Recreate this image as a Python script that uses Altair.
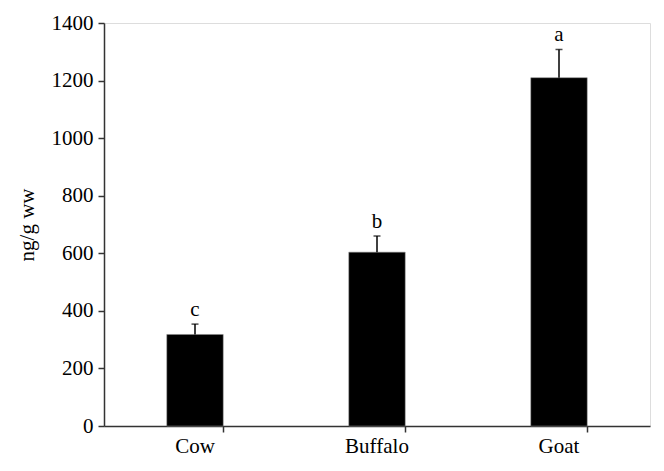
import altair as alt
import pandas as pd

categories = ["Cow", "Buffalo", "Goat"]
means = [318, 604, 1210]
errors = [36, 56, 98]
letters = ["c", "b", "a"]

df = pd.DataFrame({
    "animal": categories,
    "mean": means,
    "upper": [m + e for m, e in zip(means, errors)],
    "letter": letters,
})

FONT = "Liberation Serif"

x = alt.X("animal:N", sort=categories, title=None,
          scale=alt.Scale(paddingInner=0.69, paddingOuter=0.345),
          axis=alt.Axis(labelAngle=0, labelFontSize=21, labelFont=FONT, labelColor="black",
                        domainColor="#333333", tickColor="#333333", tickSize=6, tickWidth=1.5,
                        domainWidth=1.5, bandPosition=1, labelPadding=3))

y_scale = alt.Scale(domain=[0, 1400], nice=False)

bars = alt.Chart(df).mark_bar(color="black", stroke="#888888", strokeWidth=0.5).encode(
    x=x,
    y=alt.Y("mean:Q", scale=y_scale, title="ng/g ww",
            axis=alt.Axis(values=list(range(0, 1401, 200)), format="d", grid=False,
                          labelFontSize=21, labelFont=FONT, labelColor="black",
                          titleFont=FONT, titleFontSize=21, titleFontWeight="normal",
                          titleColor="black", domainColor="#333333", tickColor="#333333",
                          tickSize=6, tickWidth=1.5, domainWidth=1.5,
                          labelPadding=5, titlePadding=14)),
)

err = alt.Chart(df).mark_rule(color="black", strokeWidth=1.5).encode(
    x=alt.X("animal:N", sort=categories),
    y=alt.Y("mean:Q", scale=y_scale),
    y2="upper:Q",
)

caps = alt.Chart(df).mark_tick(color="black", thickness=1.5, size=7, orient="horizontal").encode(
    x=alt.X("animal:N", sort=categories),
    y=alt.Y("upper:Q", scale=y_scale),
)

labels = alt.Chart(df).mark_text(font=FONT, fontSize=21, color="black", baseline="alphabetic",
                                 dy=-8).encode(
    x=alt.X("animal:N", sort=categories),
    y=alt.Y("upper:Q", scale=y_scale),
    text="letter:N",
)

chart = alt.layer(bars, err, caps, labels).properties(
    width=546, height=403,
    autosize=alt.AutoSizeParams(type="none"),
    padding={"left": 96, "top": 15, "right": 4, "bottom": 36},
).configure_view(stroke=None).configure(background="white")

chart.save("out.html", embed_options={"renderer": "svg", "actions": False})
